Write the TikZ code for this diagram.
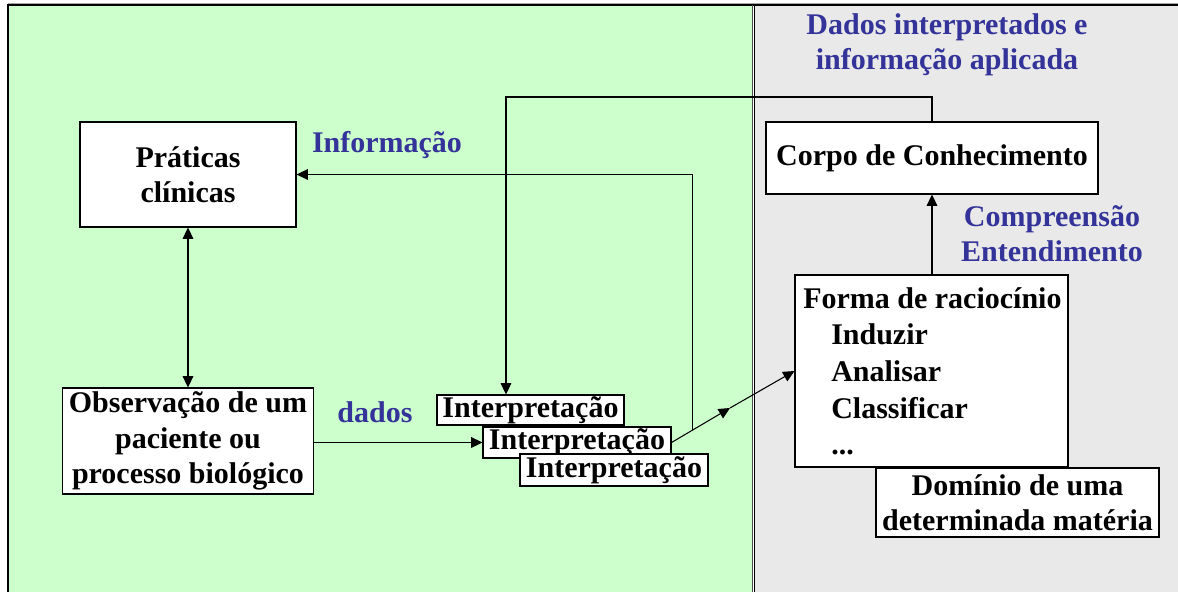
\documentclass[tikz,border=0pt]{standalone}
\usepackage{fontspec}
\setmainfont{Liberation Serif}
\usetikzlibrary{arrows.meta}
\definecolor{bggreen}{HTML}{CCFFCC}
\definecolor{bggray}{HTML}{E9E9E9}
\definecolor{lblue}{HTML}{333399}
\begin{document}
\begin{tikzpicture}[x=0.75pt,y=-0.75pt,
  font=\fontsize{22.5}{26.5}\selectfont\bfseries,
  box/.style={draw=black,fill=white,line width=0.8pt,inner sep=0pt,align=center},
  lbl/.style={text=lblue,align=center,inner sep=0pt},
  conn/.style={line width=0.8pt},
  tip/.style={-{Triangle[length=8.5pt,width=8pt]}},
  dtip/.style={{Triangle[length=8.5pt,width=8pt]}-{Triangle[length=8.5pt,width=8pt]}}]
\useasboundingbox (0,0) rectangle (1178,592);
% backgrounds
\fill[white] (0,0) rectangle (1178,592);
\draw[line width=1pt,gray!70] (8,3.5) -- (1178,3.5);
\fill[bggreen] (8,5) rectangle (753,592);
\fill[bggray] (754,5) rectangle (1178,592);
\draw[line width=1.4pt,black] (8,592) -- (8,5) -- (1178,5);
\draw[line width=0.9pt,black!70] (752.5,5) -- (752.5,592);
\draw[line width=0.9pt,black] (754.5,5) -- (754.5,592);
% boxes
\node[box,minimum width={216*0.75pt},minimum height={105*0.75pt}] (prat) at (188,174.5) {Práticas\\clínicas};
\node[box,minimum width={251*0.75pt},minimum height={106*0.75pt}] (obs) at (188,441) {Observação de um\\paciente ou\\processo biológico};
\node[box,minimum width={187*0.75pt},minimum height={30*0.75pt}] (i1) at (530.5,410) {Interpretação};
\node[box,minimum width={188*0.75pt},minimum height={31*0.75pt}] (i2) at (577,442.5) {Interpretação};
\node[box,minimum width={188*0.75pt},minimum height={32*0.75pt}] (i3) at (614,470) {Interpretação};
\node[box,minimum width={332*0.75pt},minimum height={72*0.75pt}] (corpo) at (932,158) {Corpo de Conhecimento};
\node[box,minimum width={273*0.75pt},minimum height={192*0.75pt}] (forma) at (931.5,371) {};
\node[align=left,anchor=north west,inner sep=0pt,font=\fontsize{22.5}{27.5}\selectfont\bfseries] (formatxt) at (803,287) {Forma de raciocínio\\\hspace*{21pt}Induzir\\\hspace*{21pt}Analisar\\\hspace*{21pt}Classificar\\\hspace*{21pt}...};
\node[box,minimum width={283*0.75pt},minimum height={69*0.75pt}] (dom) at (1017.5,502.5) {Domínio de uma\\determinada matéria};
% labels
\node[lbl] (ldados) at (947,45) {Dados interpretados e\\informação aplicada};
\node[lbl] (linfo) at (387,145) {Informação};
\node[lbl] (lcomp) at (1052,234) {Compreensão\\Entendimento};
\node[lbl] (ldad) at (375,412) {dados};
% connectors
\draw[conn,dtip] (prat.south) -- (obs.north);
\draw[conn,tip] (i2.west -| obs.east) -- (i2.west);
\coordinate (mid) at (730,408);
\draw[conn,tip] (i2.east) -- coordinate[pos=0.36] (branch) (mid);
\draw[conn,tip] (mid) -- (forma.west);
\draw[conn,tip] (branch) |- (prat.east);
\coordinate (fb) at (506,97);
\draw[conn,tip] (corpo.north) |- (fb) -- (fb |- i1.north);
\draw[conn,tip] (forma.north -| corpo.south) -- (corpo.south);
\end{tikzpicture}
\end{document}
